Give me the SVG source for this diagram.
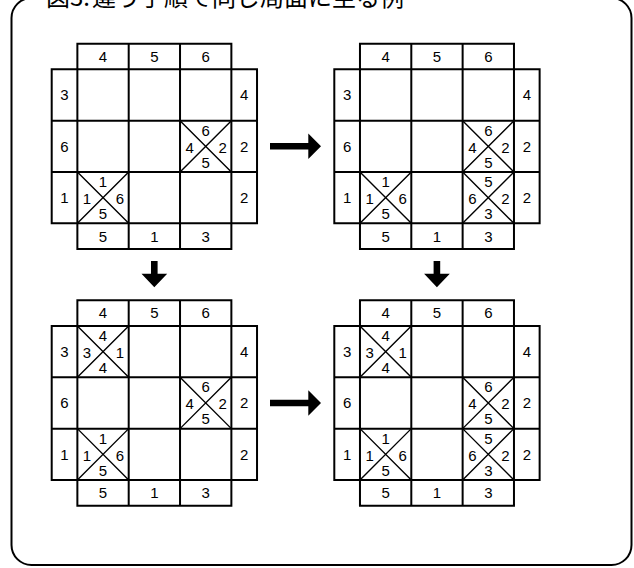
<svg xmlns="http://www.w3.org/2000/svg" xmlns:xlink="http://www.w3.org/1999/xlink" width="634" height="568" viewBox="0 0 634 568">
<style>
.frame{fill:none;stroke:#000;stroke-width:2}
.grid{fill:none;stroke:#000;stroke-width:2;stroke-linecap:square}
.diag{fill:none;stroke:#000;stroke-width:1.4}
.n{font-family:"Liberation Sans","DejaVu Sans",sans-serif;font-size:15px;text-anchor:middle;fill:#000}
.title{font-family:"Noto Sans CJK JP","Noto Sans",sans-serif;font-size:24px;fill:#000}
.arrow{fill:#000;stroke:none}
</style>
<defs>
<g id="board">
<path class="grid" d="M25.67 0V205.33M77 0V205.33M128.33 0V205.33M179.67 0V205.33M0 25.67H205.33M0 77H205.33M0 128.33H205.33M0 179.67H205.33M25.67 0H179.67M25.67 205.33H179.67M0 25.67V179.67M205.33 25.67V179.67"/>
<text class="n" x="51.33" y="18.2">4</text>
<text class="n" x="102.67" y="18.2">5</text>
<text class="n" x="154" y="18.2">6</text>
<text class="n" x="12.83" y="56.73">3</text>
<text class="n" x="12.83" y="108.07">6</text>
<text class="n" x="12.83" y="159.4">1</text>
<text class="n" x="192.5" y="56.73">4</text>
<text class="n" x="192.5" y="108.07">2</text>
<text class="n" x="192.5" y="159.4">2</text>
<text class="n" x="51.33" y="197.9">5</text>
<text class="n" x="102.67" y="197.9">1</text>
<text class="n" x="154" y="197.9">3</text>
</g>
<path id="x" class="diag" d="M0 0L51.33 51.33M51.33 0L0 51.33"/>
<g id="d12">
<use xlink:href="#x" x="128.33" y="77"/>
<text class="n" x="154" y="92.07">6</text>
<text class="n" x="138" y="109.07">4</text>
<text class="n" x="171" y="109.07">2</text>
<text class="n" x="154" y="124.07">5</text>
</g>
<g id="d20">
<use xlink:href="#x" x="25.67" y="128.33"/>
<text class="n" x="51.33" y="143.4">1</text>
<text class="n" x="35.33" y="160.4">1</text>
<text class="n" x="68.33" y="160.4">6</text>
<text class="n" x="51.33" y="175.4">5</text>
</g>
<g id="d22">
<use xlink:href="#x" x="128.33" y="128.33"/>
<text class="n" x="154" y="143.4">5</text>
<text class="n" x="138" y="160.4">6</text>
<text class="n" x="171" y="160.4">2</text>
<text class="n" x="154" y="175.4">3</text>
</g>
<g id="d00">
<use xlink:href="#x" x="25.67" y="25.67"/>
<text class="n" x="51.33" y="40.73">4</text>
<text class="n" x="35.33" y="57.73">3</text>
<text class="n" x="68.33" y="57.73">1</text>
<text class="n" x="51.33" y="72.73">4</text>
</g>
</defs>
<rect class="frame" x="11.5" y="-2" width="620" height="567" rx="20" ry="20"/>
<text class="title" x="46" y="6">図3.<tspan x="92">違う手順で同じ局面に至る例</tspan></text>
<g id="gridA" transform="translate(51.7,43.7)">
<use xlink:href="#board"/>
<use xlink:href="#d12"/>
<use xlink:href="#d20"/>
</g>
<g id="gridB" transform="translate(334.3,43.7)">
<use xlink:href="#board"/>
<use xlink:href="#d12"/>
<use xlink:href="#d20"/>
<use xlink:href="#d22"/>
</g>
<g id="gridC" transform="translate(51.7,300.3)">
<use xlink:href="#board"/>
<use xlink:href="#d12"/>
<use xlink:href="#d20"/>
<use xlink:href="#d00"/>
</g>
<g id="gridD" transform="translate(334.3,300.3)">
<use xlink:href="#board"/>
<use xlink:href="#d12"/>
<use xlink:href="#d20"/>
<use xlink:href="#d22"/>
<use xlink:href="#d00"/>
</g>
<g id="connectors">
<path class="arrow" d="M270 143H308.3V133.5L321 146.3L308.3 159V149.6H270Z"/>
<path class="arrow" d="M270 399.7H308.3V390.2L321 403L308.3 415.7V406.3H270Z"/>
<path class="arrow" d="M151 261V273.7H141.5L154.3 287.3L167.2 273.7H157.6V261Z"/>
<path class="arrow" d="M433.6 261V273.7H424.1L436.9 287.3L449.8 273.7H440.2V261Z"/>
</g>
</svg>
